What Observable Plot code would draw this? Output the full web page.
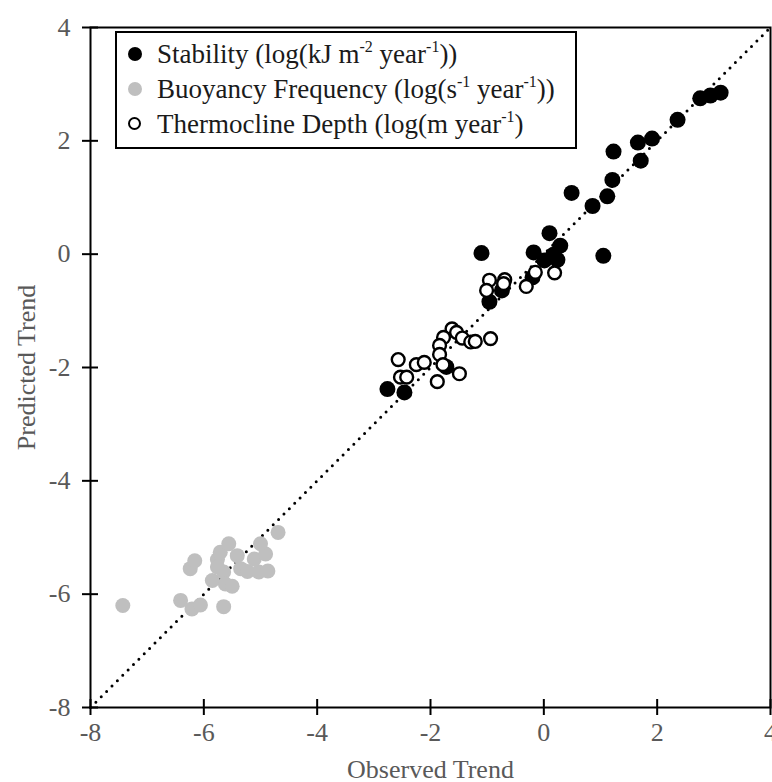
<!DOCTYPE html>
<html>
<head>
<meta charset="utf-8">
<script src="https://cdn.jsdelivr.net/npm/d3@7"></script>
<script src="https://cdn.jsdelivr.net/npm/@observablehq/plot@0.6"></script>
<style>
  body { margin: 0; background: #fff; }
  #wrap { position: relative; width: 772px; height: 782px; overflow: hidden; font-family: "Liberation Serif", "Times New Roman", serif; }
  #legend { position: absolute; left: 115px; top: 31px; width: 458px; height: 114px; border: 2px solid #000; background: #fff; box-sizing: content-box; }
  .row { position: absolute; left: 0; width: 100%; height: 34px; font-size: 27px; line-height: 30px; color: #1a1a1a; white-space: nowrap; }
  .row sup { font-size: 16px; line-height: 0; vertical-align: 0; position: relative; top: -11px; }
  .mk { position: absolute; left: 11px; top: 8px; width: 14px; height: 14px; border-radius: 50%; box-sizing: border-box; }
  .row span.t { position: absolute; left: 40px; top: 0; }
</style>
</head>
<body>
<div id="wrap"></div>
<script>
// Stability (black filled)
const stabX = [-2.76,-2.46,-1.72,-1.10,-0.96,-0.74,-0.20,-0.18,0.01,0.10,0.17,0.29,0.24,0.49,0.86,1.05,1.12,1.21,1.23,1.66,1.71,1.91,2.36,2.76,2.94,3.12];
const stabY = [-2.38,-2.44,-1.99,0.02,-0.84,-0.64,-0.41,0.03,-0.11,0.37,-0.01,0.15,-0.10,1.08,0.85,-0.03,1.02,1.31,1.81,1.97,1.65,2.04,2.37,2.75,2.80,2.85];
// Buoyancy frequency (gray filled)
const buoyX = [-7.43,-6.41,-6.21,-6.06,-5.65,-6.24,-6.16,-5.85,-5.76,-5.71,-5.56,-5.41,-5.65,-5.62,-5.50,-5.35,-5.23,-5.03,-4.87,-5.11,-4.91,-5.00,-4.69,-5.76];
const buoyY = [-6.20,-6.11,-6.26,-6.19,-6.22,-5.55,-5.41,-5.76,-5.39,-5.26,-5.11,-5.32,-5.61,-5.82,-5.86,-5.55,-5.60,-5.61,-5.59,-5.38,-5.29,-5.11,-4.91,-5.52];
// Thermocline depth (open circles)
const thermX = [-0.96,-0.69,-1.01,-0.71,-0.31,-0.15,0.19,-1.62,-1.54,-1.77,-1.44,-1.29,-1.21,-0.94,-1.84,-1.84,-2.57,-2.25,-2.11,-1.78,-2.53,-2.42,-1.49,-1.88];
const thermY = [-0.46,-0.45,-0.64,-0.52,-0.57,-0.32,-0.33,-1.32,-1.38,-1.47,-1.48,-1.55,-1.54,-1.49,-1.61,-1.77,-1.86,-1.95,-1.91,-1.95,-2.17,-2.17,-2.11,-2.25];
// 1:1 line
const oneToOne = [-8, 4];
const ticks = [-8, -6, -4, -2, 0, 2, 4];

const pts = (xs, ys) => xs.map((x, i) => ({x, y: ys[i]}));
const stab = pts(stabX, stabY);
const buoy = pts(buoyX, buoyY);
const therm = pts(thermX, thermY);
const diag = oneToOne.map(v => ({x: v, y: v}));

const gray = "#595959";
const fmt = d => (d < 0 ? "-" + Math.abs(d) : String(d));
const chart = Plot.plot({
  width: 772,
  height: 782,
  marginLeft: 90,
  marginRight: 2,
  marginTop: 27,
  marginBottom: 75,
  style: {fontFamily: "'Liberation Serif', 'Times New Roman', serif", fontSize: "26px", background: "white", overflow: "visible"},
  x: {domain: [-8, 4]},
  y: {domain: [-8, 4]},
  marks: [
    Plot.line(diag, {x: "x", y: "y", stroke: "#000", strokeWidth: 3, strokeDasharray: "0,7.6", strokeLinecap: "round"}),
    Plot.dot(stab, {x: "x", y: "y", r: 8, fill: "#000", stroke: "none"}),
    Plot.dot(buoy, {x: "x", y: "y", r: 7.5, fill: "#bfbfbf", stroke: "none"}),
    Plot.dot(therm, {x: "x", y: "y", r: 6.4, fill: "#fff", stroke: "#000", strokeWidth: 2.4}),
    Plot.frame({stroke: "#000", strokeWidth: 2}),
    Plot.axisX({ticks, tickFormat: fmt, tickSize: 8, tickPadding: 7, stroke: "#000", strokeWidth: 2, color: gray, fill: gray, fontSize: 26,
      label: "Observed Trend", labelAnchor: "center", labelOffset: 70, labelArrow: "none"}),
    Plot.axisX({ticks, tickSize: -8, tickFormat: () => "", stroke: "#000", strokeWidth: 2, label: null}),
    Plot.axisY({ticks, tickFormat: fmt, tickSize: 8, tickPadding: 12, stroke: "#000", strokeWidth: 2, color: gray, fill: gray, fontSize: 26,
      label: "Predicted Trend", labelAnchor: "center", labelOffset: 74, labelArrow: "none"}),
    Plot.axisY({ticks, tickSize: -8, tickFormat: () => "", stroke: "#000", strokeWidth: 2, label: null})
  ]
});
const wrap = document.getElementById("wrap");
wrap.appendChild(chart);

const legend = document.createElement("div");
legend.id = "legend";
legend.innerHTML = `
  <div class="row" style="top:6px"><div class="mk" style="background:#000"></div><span class="t">Stability (log(kJ m<sup>-2</sup> year<sup>-1</sup>))</span></div>
  <div class="row" style="top:41px"><div class="mk" style="background:#bfbfbf"></div><span class="t">Buoyancy Frequency (log(s<sup>-1</sup> year<sup>-1</sup>))</span></div>
  <div class="row" style="top:76px"><div class="mk" style="background:#fff;border:2.4px solid #000;width:13px;height:13px"></div><span class="t">Thermocline Depth (log(m year<sup>-1</sup>)</span></div>`;
wrap.appendChild(legend);
</script>
</body>
</html>
